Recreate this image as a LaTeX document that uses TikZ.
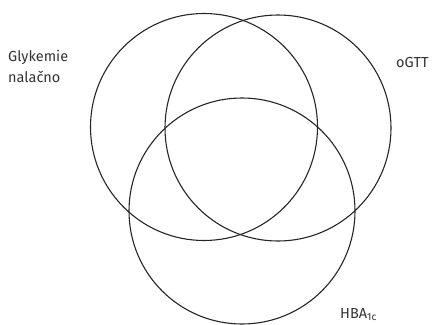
\documentclass[tikz,border=0pt]{standalone}
\usepackage{fontspec}
\setmainfont{Fira Sans}
\begin{document}
\begin{tikzpicture}[x=1pt,y=-1pt,
  ring/.style={draw=black!85,line width=1.1pt},
  lbl/.style={text=black!80,font=\fontsize{14.5}{17}\selectfont,inner sep=0pt}]
\useasboundingbox (0,0) rectangle (433,324);
\draw[ring] (204,127) circle (113.5pt);
\draw[ring] (278,128) circle (113pt);
\draw[ring] (242,211) circle (113pt);
\node[lbl,anchor=base west] (g) at (8,61) {Glykemie};
\node[lbl,anchor=base west] (n) at (8,82) {nalačno};
\node[lbl,anchor=base west] (o) at (396,67) {oGTT};
\node[lbl,anchor=base west] (h) at (340,318) {HBA\textsubscript{1c}};
\end{tikzpicture}
\end{document}
